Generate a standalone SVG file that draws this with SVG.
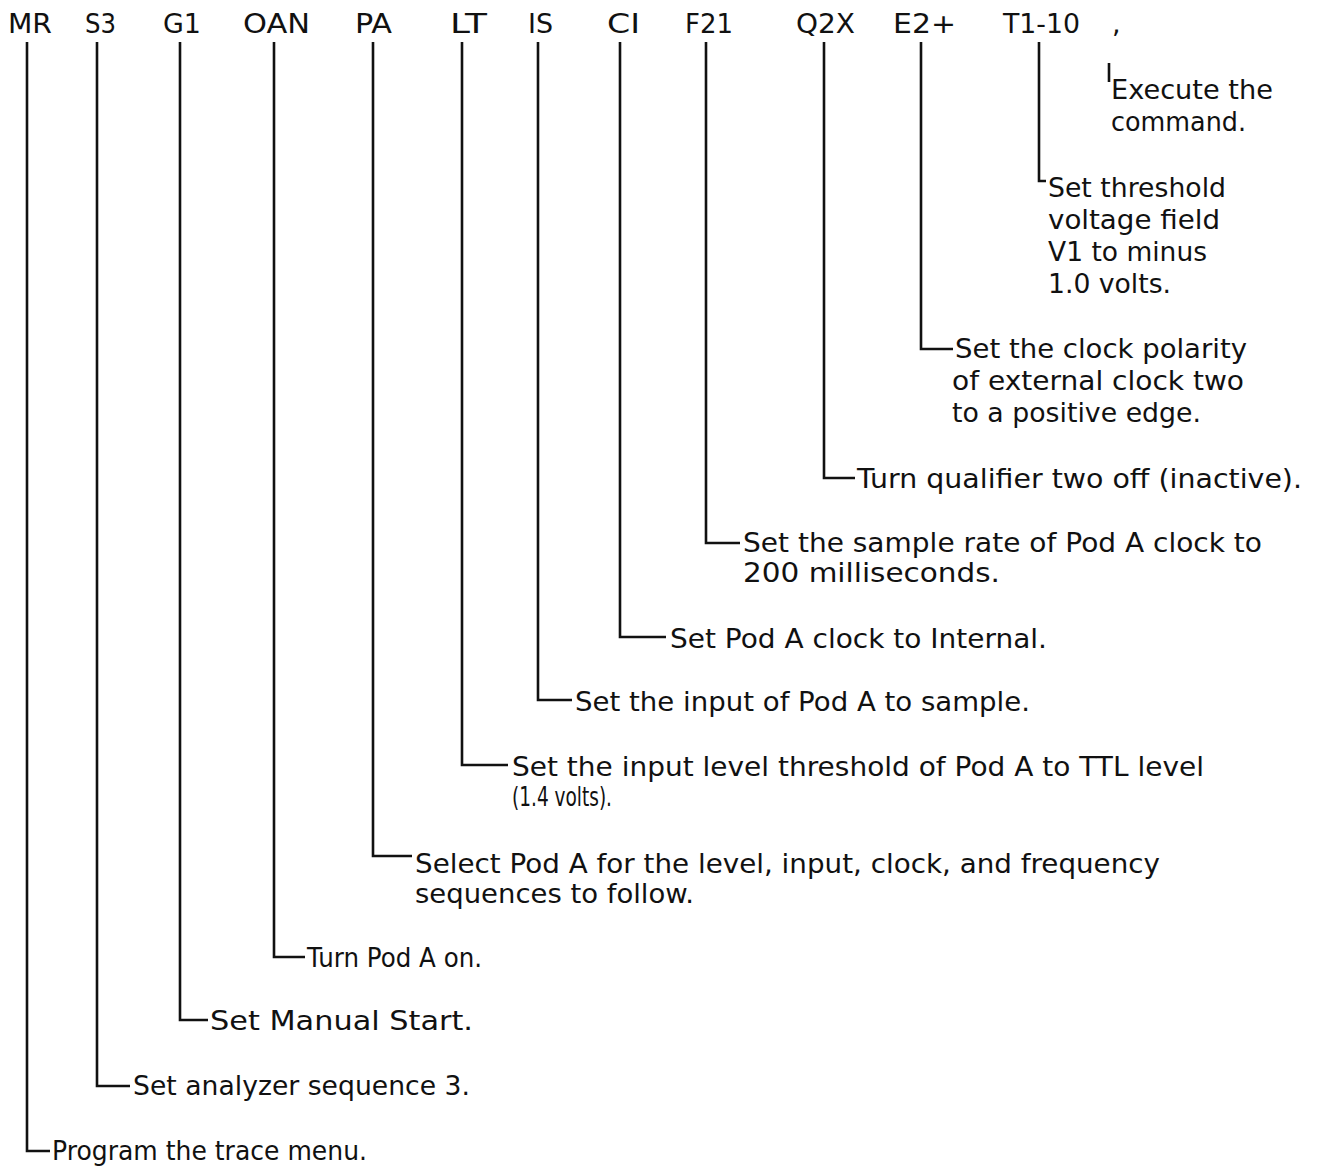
<svg xmlns="http://www.w3.org/2000/svg" width="1322" height="1166" viewBox="0 0 1322 1166">
<style>
text{font-family:"DejaVu Sans","Liberation Sans",sans-serif;font-size:27px;fill:#111}
.c{fill:none;stroke:#111;stroke-width:2.6;stroke-linejoin:miter}
</style>
<rect width="1322" height="1166" fill="#fff"/>
<g id="labels">
<g id="lbl-MR"><text x="8" y="33" textLength="44" lengthAdjust="spacingAndGlyphs">MR</text></g>
<g id="lbl-S3"><text x="85" y="33" textLength="31" lengthAdjust="spacingAndGlyphs">S3</text></g>
<g id="lbl-G1"><text x="163" y="33" textLength="38" lengthAdjust="spacingAndGlyphs">G1</text></g>
<g id="lbl-OAN"><text x="243" y="33" textLength="67" lengthAdjust="spacingAndGlyphs">OAN</text></g>
<g id="lbl-PA"><text x="355" y="33" textLength="37" lengthAdjust="spacingAndGlyphs">PA</text></g>
<g id="lbl-LT"><text x="450" y="33" textLength="37" lengthAdjust="spacingAndGlyphs">LT</text></g>
<g id="lbl-IS"><text x="528" y="33" textLength="25" lengthAdjust="spacingAndGlyphs">IS</text></g>
<g id="lbl-CI"><text x="607" y="33" textLength="33" lengthAdjust="spacingAndGlyphs">CI</text></g>
<g id="lbl-F21"><text x="685" y="33" textLength="48" lengthAdjust="spacingAndGlyphs">F21</text></g>
<g id="lbl-Q2X"><text x="796" y="33" textLength="59" lengthAdjust="spacingAndGlyphs">Q2X</text></g>
<g id="lbl-E2"><text x="893" y="33" textLength="63" lengthAdjust="spacingAndGlyphs">E2+</text></g>
<g id="lbl-T1"><text x="1003" y="33" textLength="77" lengthAdjust="spacingAndGlyphs">T1-10</text></g>
<g id="lbl-comma"><text x="1112" y="33">,</text></g>
</g>
<g id="connectors">
<path class="c" d="M27 42V1151H50"/>
<path class="c" d="M97 42V1086H130"/>
<path class="c" d="M180 42V1020H208"/>
<path class="c" d="M274 42V957H305"/>
<path class="c" d="M373 42V856H412"/>
<path class="c" d="M462 42V765H508"/>
<path class="c" d="M538 42V700H572"/>
<path class="c" d="M620 42V637H666"/>
<path class="c" d="M706 42V543H740"/>
<path class="c" d="M824 42V478H855"/>
<path class="c" d="M921 42V349H953"/>
<path class="c" d="M1039 42V181H1046"/>
<path class="c" d="M1109 63V82"/>
</g>
<g id="descriptions">
<g id="d-MR"><text x="52" y="1160" textLength="315" lengthAdjust="spacingAndGlyphs">Program the trace menu.</text></g>
<g id="d-S3"><text x="133" y="1095" textLength="337" lengthAdjust="spacingAndGlyphs">Set analyzer sequence 3.</text></g>
<g id="d-G1"><text x="210" y="1030" textLength="263" lengthAdjust="spacingAndGlyphs">Set Manual Start.</text></g>
<g id="d-OAN"><text x="307" y="967" textLength="175" lengthAdjust="spacingAndGlyphs">Turn Pod A on.</text></g>
<g id="d-PA"><text x="415" y="873" textLength="745" lengthAdjust="spacingAndGlyphs">Select Pod A for the level, input, clock, and frequency</text><text x="415" y="903" textLength="279" lengthAdjust="spacingAndGlyphs">sequences to follow.</text></g>
<g id="d-LT"><text x="512" y="776" textLength="692" lengthAdjust="spacingAndGlyphs">Set the input level threshold of Pod A to TTL level</text><text x="512" y="806" textLength="100" lengthAdjust="spacingAndGlyphs">(1.4 volts).</text></g>
<g id="d-IS"><text x="575" y="711" textLength="455" lengthAdjust="spacingAndGlyphs">Set the input of Pod A to sample.</text></g>
<g id="d-CI"><text x="670" y="648" textLength="377" lengthAdjust="spacingAndGlyphs">Set Pod A clock to Internal.</text></g>
<g id="d-F21"><text x="743" y="552" textLength="519" lengthAdjust="spacingAndGlyphs">Set the sample rate of Pod A clock to</text><text x="743" y="582" textLength="257" lengthAdjust="spacingAndGlyphs">200 milliseconds.</text></g>
<g id="d-Q2X"><text x="857" y="488" textLength="445" lengthAdjust="spacingAndGlyphs">Turn qualifier two off (inactive).</text></g>
<g id="d-E2"><text x="955" y="358" textLength="292" lengthAdjust="spacingAndGlyphs">Set the clock polarity</text><text x="952" y="390" textLength="292" lengthAdjust="spacingAndGlyphs">of external clock two</text><text x="952" y="422" textLength="249" lengthAdjust="spacingAndGlyphs">to a positive edge.</text></g>
<g id="d-T1"><text x="1048" y="197" textLength="178" lengthAdjust="spacingAndGlyphs">Set threshold</text><text x="1048" y="229" textLength="172" lengthAdjust="spacingAndGlyphs">voltage field</text><text x="1048" y="261" textLength="159" lengthAdjust="spacingAndGlyphs">V1 to minus</text><text x="1048" y="293" textLength="123" lengthAdjust="spacingAndGlyphs">1.0 volts.</text></g>
<g id="d-comma"><text x="1111" y="99" textLength="162" lengthAdjust="spacingAndGlyphs">Execute the</text><text x="1111" y="131" textLength="135" lengthAdjust="spacingAndGlyphs">command.</text></g>
</g>
</svg>
